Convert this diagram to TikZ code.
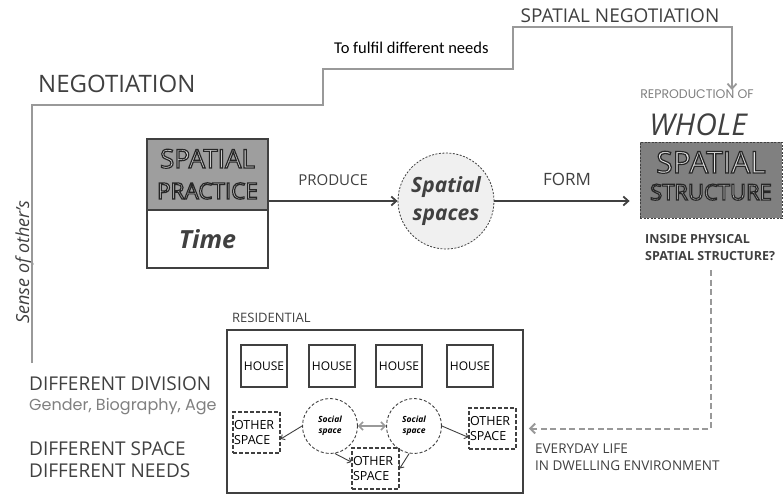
\documentclass[tikz,border=0pt]{standalone}
\usepackage{fontspec}
\setmainfont{Open Sans}
\newfontfamily\carlito{Carlito}
\newfontfamily\poppins{Poppins}
\usepackage{xcolor}
\usepackage{tikz}
\usetikzlibrary{arrows.meta,positioning}

\definecolor{linegray}{gray}{0.6}
\definecolor{textdark}{gray}{0.25}
\definecolor{practgray}{gray}{0.62}
\definecolor{structgray}{gray}{0.5}
\definecolor{circfill}{gray}{0.94}

% light letters with a dark rim (text render mode 2)
\newcommand{\outlined}[1]{\textcolor{gray!22}{\special{pdf:literal direct 2 Tr 1.2 w 0.15 G}#1\special{pdf:literal direct 0 Tr}}}

\begin{document}
\begin{tikzpicture}[
    x=1pt, y=-1pt,
    negline/.style={draw=linegray, line width=1.8pt},
    arrow/.style={-{Straight Barb[length=5pt,width=9pt]}, line width=1.8pt, draw=textdark},
    smallarrow/.style={-{Straight Barb[length=3pt,width=6pt]}, line width=0.9pt, draw=textdark},
    dasharrow/.style={-{Straight Barb[length=5pt,width=10pt]}, dash pattern=on 6pt off 3.5pt, line width=2pt, draw=linegray},
    lbl/.style={text=textdark, inner sep=0pt},
    housebox/.style={draw=textdark, line width=1.3pt, minimum width=46pt, minimum height=42pt, inner sep=0pt, font=\fontsize{12}{12}\selectfont},
    otherbox/.style={draw=textdark, dash pattern=on 4pt off 2pt, line width=1.4pt, text width=45pt, inner xsep=1pt, inner ysep=0pt, minimum height=41pt, align=left, font=\fontsize{12.5}{14.5}\selectfont},
    socialcircle/.style={circle, draw=textdark, dash pattern=on 3pt off 2pt, line width=0.9pt, minimum size=55pt, inner sep=0pt, align=center, text=black, font=\bfseries\itshape\fontsize{8.5}{11.5}\selectfont}
]
    \useasboundingbox (0,0) rectangle (783,495);

    % negotiation track
    \coordinate (negstart) at (32,363);
    \coordinate (negend) at (732,90);
    \node[lbl, anchor=base west, font=\fontsize{24}{24}\selectfont] (nego) at (38,92) {NEGOTIATION};
    \node[lbl, anchor=base west, text=black, font=\carlito\fontsize{16.5}{16.5}\selectfont] (fulfil) at (334,53) {To fulfil different needs};
    \node[lbl, anchor=base, font=\fontsize{19}{19}\selectfont] (spneg) at (620,23) {SPATIAL NEGOTIATION};
    \node[lbl, rotate=90, anchor=base, font=\itshape\fontsize{18}{18}\selectfont] (sense) at (29,262) {Sense of other’s};
    \draw[negline, -{Straight Barb[length=5pt,width=9pt]}] (negstart) |- (323,105) |- (513,69) |- (732,27) -- (negend);

    % whole spatial structure
    \node[lbl, anchor=base, text=black!50, font=\poppins\fontsize{12.5}{12.5}\selectfont] (repro) at (697,98) {REPRODUCTION OF};
    \node[lbl, anchor=base, font=\itshape\fontsize{30}{30}\selectfont] (whole) at (698,135) {WHOLE};
    \node[draw=textdark, fill=structgray, dash pattern=on 2pt off 1.5pt, line width=0.8pt, minimum width=142pt, minimum height=76pt, inner sep=0pt] (struct) at (711,180) {};
    \node[inner sep=0pt, anchor=base, font=\fontsize{30}{30}\selectfont] (structa) at (711,173) {\outlined{SPATIAL}};
    \node[inner sep=0pt, anchor=base, font=\fontsize{22}{22}\selectfont] (structb) at (711,200) {\outlined{STRUCTURE}};
    \node[lbl, anchor=base west, align=left, font=\bfseries\fontsize{12.5}{17}\selectfont] (inside) at (645,260) {INSIDE PHYSICAL\\SPATIAL STRUCTURE?};

    % spatial practice
    \node[draw=textdark, fill=practgray, line width=1.2pt, minimum width=121pt, minimum height=71pt, inner sep=0pt] (prac) at (207.5,174.5) {};
    \node[inner sep=0pt, anchor=base, font=\fontsize{26}{26}\selectfont] (praca) at (207.5,168) {\outlined{SPATIAL}};
    \node[inner sep=0pt, anchor=base, font=\fontsize{22.5}{22.5}\selectfont] (pracb) at (207.5,199) {\outlined{PRACTICE}};
    \node[draw=textdark, fill=white, line width=1.2pt, minimum width=121pt, minimum height=58pt, inner sep=0pt, text=textdark, font=\bfseries\itshape\fontsize{25}{25}\selectfont] (time) at (207.5,239) {Time};

    \node[circle, draw=textdark, fill=circfill, dash pattern=on 2pt off 1.5pt, line width=0.8pt, minimum size=96pt, inner sep=0pt, align=center, text=textdark, font=\bfseries\itshape\fontsize{21}{28}\selectfont] (spaces) at (446,201) {Spatial\\spaces};

    \draw[arrow] (spaces.west -| prac.east) -- node[lbl, above=14pt, font=\fontsize{15}{15}\selectfont] (produce) {PRODUCE} (spaces.west);
    \draw[arrow, shorten >=10pt] (spaces.east) -- node[lbl, above=14pt, font=\fontsize{17}{17}\selectfont] (form) {FORM} (spaces.east -| struct.west);

    % residential
    \node[draw=textdark, line width=1.5pt, minimum width=296pt, minimum height=163pt, inner sep=0pt] (res) at (375,411.5) {};
    \node[lbl, anchor=base west, font=\fontsize{13}{13}\selectfont] (reslbl) at (232,322) {RESIDENTIAL};
    \foreach \x/\n in {264/1,332/2,399/3,470/4}
        \node[housebox] (house\n) at (\x,366) {HOUSE};
    \node[otherbox] (os1) at (256.5,432.5) {OTHER\\SPACE};
    \node[otherbox] (os2) at (375.5,468.5) {OTHER\\SPACE};
    \node[otherbox] (os3) at (492.5,428.5) {OTHER\\SPACE};
    \node[socialcircle] (soc1) at (330,426) {Social\\space};
    \node[socialcircle] (soc2) at (414,426) {Social\\space};

    \draw[{Straight Barb[length=4pt,width=8pt]}-{Straight Barb[length=4pt,width=8pt]}, line width=1.6pt, draw=linegray] (soc1.east) -- (soc2.west);
    \draw[smallarrow] (soc1.west) -- (os1.-15);
    \draw[smallarrow] (soc1.-80) -- (os2.165);
    \draw[smallarrow] (soc2.-100) -- (os2.east);
    \draw[smallarrow] (soc2.east) -- (os3.200);

    \coordinate (dstart) at (711,270);
    \draw[dasharrow] (dstart) |- ([xshift=5pt]res.east |- os3.west);
    \node[lbl, anchor=base west, align=left, font=\fontsize{13.5}{17}\selectfont] (everyday) at (535,470) {EVERYDAY LIFE\\IN DWELLING ENVIRONMENT};

    % divisions
    \node[lbl, anchor=base west, font=\fontsize{19}{19}\selectfont] (division) at (29,390) {DIFFERENT DIVISION};
    \node[lbl, anchor=base west, text=black!50, font=\poppins\fontsize{16}{16}\selectfont] (gender) at (29,410) {Gender, Biography, Age};
    \node[lbl, anchor=base west, align=left, font=\fontsize{19}{22}\selectfont] (needs) at (29,477) {DIFFERENT SPACE\\DIFFERENT NEEDS};

\end{tikzpicture}
\end{document}
